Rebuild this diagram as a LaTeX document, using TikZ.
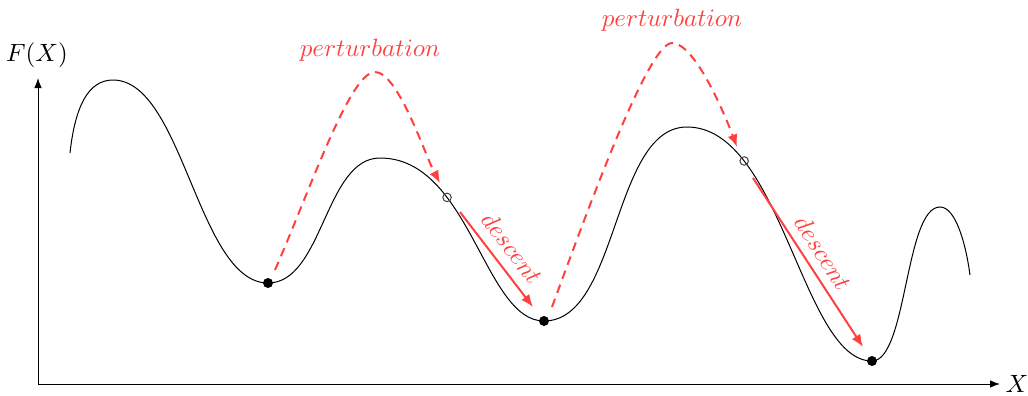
\documentclass[tikz,border=0pt]{standalone}
\usetikzlibrary{arrows.meta}
\definecolor{pred}{RGB}{255,64,64}
\begin{document}
\begin{tikzpicture}[x=0.4pt,y=0.4pt,
  curve/.style={black,line width=0.4pt},
  axis/.style={black,line width=0.4pt,-{Latex[length=4pt,width=3pt]}},
  pert/.style={pred,line width=0.8pt,dash pattern=on 3.5pt off 2.5pt,-{Latex[length=5pt,width=4pt]}},
  desc/.style={pred,line width=0.8pt,-{Latex[length=5pt,width=4pt]}},
  lab/.style={pred,inner sep=1pt},
  fulldot/.style={circle,fill=black,inner sep=0pt,minimum size=4pt},
  opendot/.style={circle,draw=black!75,line width=0.4pt,inner sep=0pt,minimum size=3.4pt}]
\useasboundingbox (0,0) rectangle (1028,395);
% axes
\coordinate (O) at (38,11);
\coordinate (ytop) at (38,317);
\coordinate (xend) at (1000,11);
\draw[axis] (O) -- (ytop);
\draw[axis] (O) -- (xend);
\node[anchor=west,inner sep=2pt] (xl) at (xend) {$X$};
\node (yl) at (37,340) {$F(X)$};
% landscape
\coordinate (s) at (70,242);
\coordinate (p1) at (113,315);
\coordinate (m1) at (268,112);
\coordinate (p2) at (380,237);
\coordinate (m2) at (544,74);
\coordinate (p3) at (687,268);
\coordinate (m3) at (872,34);
\coordinate (p4) at (940,188);
\coordinate (e) at (970,120);
\draw[curve] (s) .. controls (75,288) and (88,315) .. (p1)
  .. controls (183,315) and (198,112) .. (m1)
  .. controls (323,112) and (325,237) .. (p2)
  .. controls (470,237) and (484,74) .. coordinate[pos=0.32] (c1) (m2)
  .. controls (619,74) and (612,268) .. (p3)
  .. controls (782,268) and (802,34) .. coordinate[pos=0.24] (c2) (m3)
  .. controls (907,34) and (905,188) .. (p4)
  .. controls (956,188) and (966,150) .. (e);
% perturbations
\coordinate (a1) at (275,125);
\coordinate (t1) at (375,323);
\coordinate (b1) at (440,212);
\draw[pert] (a1) .. controls (310,205) and (350,323) .. (t1)
  .. controls (398,323) and (425,240) .. (b1);
\node[lab] (l1) at (370,345) {$perturbation$};
\coordinate (a2) at (552,88);
\coordinate (t2) at (672,352);
\coordinate (b2) at (737,248);
\draw[pert] (a2) .. controls (587,183) and (648,352) .. (t2)
  .. controls (695,352) and (725,280) .. (b2);
\node[lab] (l2) at (672,375) {$perturbation$};
% descents
\coordinate (d1s) at (460,183);
\coordinate (d1e) at (533,88);
\draw[desc] (d1s) -- (d1e);
\node[lab,rotate=-52.5] (dl1) at (512,147) {$descent$};
\coordinate (d2s) at (753,217);
\coordinate (d2e) at (863,48);
\draw[desc] (d2s) -- (d2e);
\node[lab,rotate=-57] (dl2) at (823,142) {$descent$};
% points
\node[fulldot] (n1) at (m1) {};
\node[fulldot] (n2) at (m2) {};
\node[fulldot] (n3) at (m3) {};
\node[opendot] (o1) at (c1) {};
\node[opendot] (o2) at (c2) {};
\end{tikzpicture}
\end{document}
